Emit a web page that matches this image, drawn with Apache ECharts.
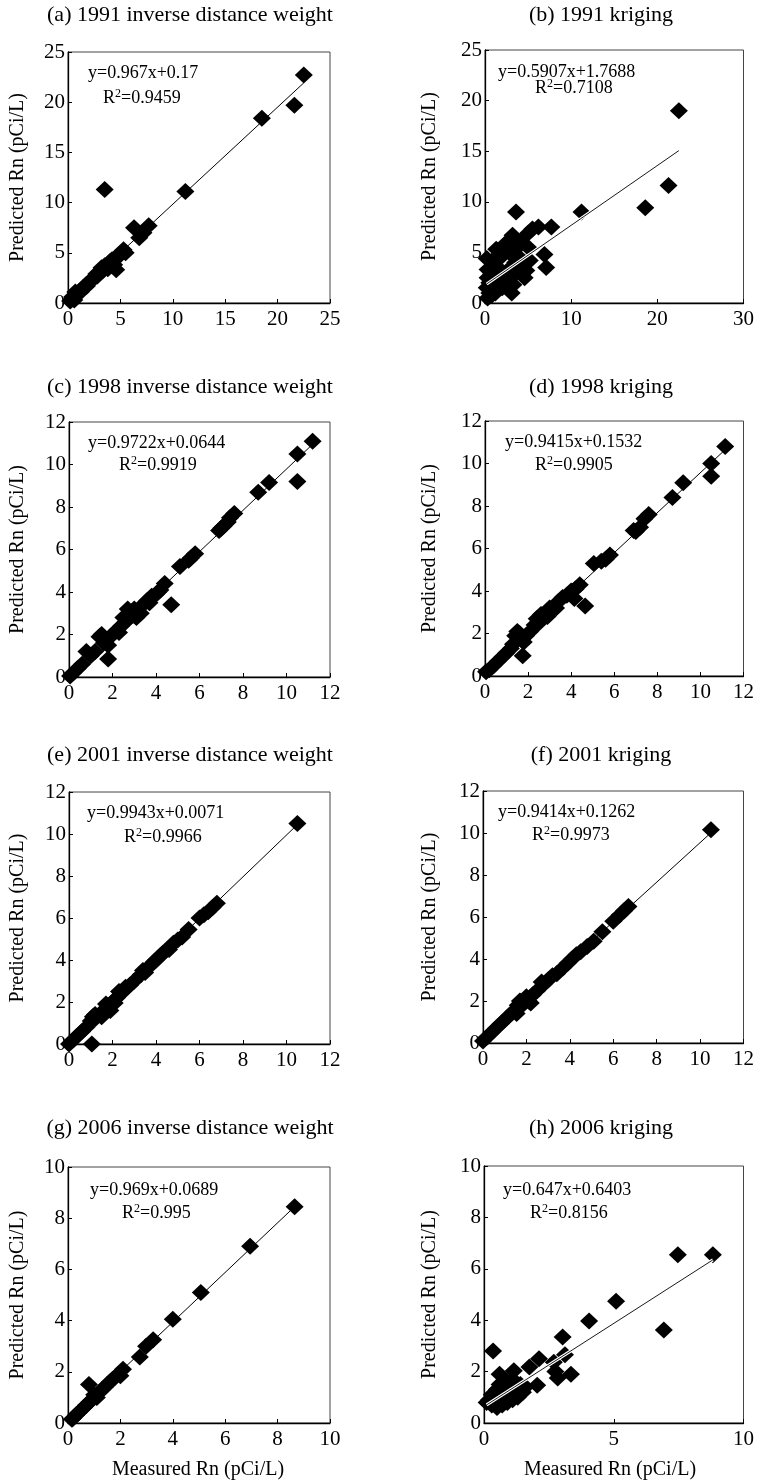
<!DOCTYPE html>
<html><head><meta charset="utf-8">
<script src="https://cdn.jsdelivr.net/npm/echarts@6/dist/echarts.min.js"></script>
<style>html,body{margin:0;padding:0;background:#fff}#c{width:757px;height:1481px}</style>
</head><body><div id="c"></div><script>
// ---- data (measured, predicted) ----
const idw1991 = [[22.5,22.7],[21.6,19.7],[18.5,18.4],[11.2,11.1],[3.5,11.3],[6.3,7.5],[7.7,7.7],[7.2,7.0],[6.8,6.5],[5.3,5.3],[5.5,5.0],[5.0,4.8],[4.8,4.7],[4.6,3.3],[4.4,3.8],[4.5,4.5],[4.2,4.3],[4.0,4.1],[3.8,3.4],[3.5,3.7],[3.3,3.2],[3.2,3.5],[3.0,3.0],[2.8,2.7],[2.7,2.9],[2.5,2.5],[2.2,2.3],[2.0,2.0],[1.8,1.7],[1.7,1.8],[1.4,1.5],[1.2,1.1],[1.0,1.0],[0.8,0.9],[0.7,1.1],[0.6,0.3],[0.5,0.5],[0.4,0.6],[0.3,0.3],[0.2,0.2]];
const krig1991 = [[22.5,19.0],[21.3,11.6],[18.6,9.4],[11.2,9.0],[3.6,9.0],[7.7,7.5],[6.2,7.5],[5.5,7.3],[5.0,6.9],[6.9,4.8],[7.1,3.5],[3.2,6.7],[3.0,6.2],[2.3,5.8],[1.3,5.3],[1.0,4.3],[0.2,4.4],[3.1,1.0],[4.6,2.5],[4.6,4.0],[5.0,5.5],[4.0,4.5],[3.5,4.0],[3.0,3.5],[2.5,3.0],[2.0,2.5],[1.5,2.0],[1.0,1.5],[0.5,1.0],[0.3,0.5],[0.5,2.0],[0.7,3.0],[1.0,2.5],[1.5,3.5],[2.0,1.5],[2.5,2.0],[3.0,2.5],[3.5,3.0],[4.0,3.5],[0.2,1.5],[0.3,2.5],[0.3,3.3],[1.8,4.5],[2.8,5.0],[3.8,5.5],[4.2,6.0],[0.8,0.8],[1.2,1.0],[2.2,2.0],[4.8,3.2],[5.2,4.2],[3.3,1.8],[2.7,1.5]];
const idw1998 = [[11.2,11.1],[10.5,10.5],[10.5,9.2],[9.2,9.15],[8.7,8.7],[7.6,7.7],[7.4,7.5],[7.3,7.3],[7.1,7.1],[7.0,7.0],[6.9,6.9],[5.8,5.8],[5.6,5.6],[5.5,5.5],[5.1,5.2],[4.7,3.4],[4.4,4.4],[4.2,4.1],[4.1,4.0],[4.0,3.9],[3.8,3.8],[3.7,3.5],[3.6,3.6],[3.4,3.4],[3.3,3.0],[3.2,3.0],[3.1,2.8],[3.0,2.9],[3.0,3.2],[2.9,3.0],[2.8,2.8],[2.7,3.2],[2.6,2.6],[2.5,2.8],[2.4,2.4],[2.3,2.1],[2.2,2.2],[2.0,2.0],[1.8,1.8],[1.8,1.5],[1.8,0.85],[1.6,1.6],[1.5,2.0],[1.4,1.9],[1.2,1.2],[1.0,1.0],[0.8,1.2],[0.6,0.6],[0.4,0.4],[0.2,0.2],[0.05,0.05]];
const krig1998 = [[11.15,10.8],[10.5,10.0],[10.5,9.4],[9.2,9.1],[8.7,8.4],[7.6,7.6],[7.4,7.4],[7.2,7.0],[7.0,6.8],[6.9,6.85],[5.8,5.7],[5.6,5.5],[5.4,5.4],[5.05,5.3],[4.65,3.3],[4.4,4.3],[4.2,4.1],[4.15,3.65],[4.0,4.0],[3.8,3.8],[3.6,3.7],[3.4,3.5],[3.3,3.2],[3.2,3.2],[3.0,3.2],[2.9,2.8],[2.8,2.9],[2.6,2.9],[2.5,2.5],[2.4,2.7],[2.3,2.4],[2.1,2.1],[1.9,1.9],[1.8,1.6],[1.75,0.95],[1.7,1.7],[1.6,2.0],[1.5,2.1],[1.4,1.9],[1.3,1.5],[1.2,1.3],[1.0,1.1],[0.8,0.9],[0.6,0.7],[0.4,0.5],[0.2,0.3],[0.05,0.2]];
const idw2001 = [[10.5,10.5],[6.8,6.7],[6.6,6.5],[6.4,6.3],[6.2,6.15],[6.0,6.0],[5.5,5.45],[5.2,5.1],[5.0,4.95],[4.8,4.8],[4.6,4.5],[4.4,4.4],[4.3,4.3],[4.2,4.2],[4.0,4.0],[3.9,3.9],[3.8,3.8],[3.5,3.4],[3.4,3.5],[3.3,3.3],[3.0,3.0],[2.8,2.8],[2.6,2.7],[2.4,2.4],[2.3,2.5],[2.2,2.2],[2.1,1.95],[2.0,2.0],[1.8,1.8],[1.9,1.6],[1.7,1.9],[1.6,1.6],[1.5,1.3],[1.4,1.4],[1.2,1.4],[1.2,1.2],[1.1,1.3],[1.0,1.1],[0.8,0.8],[0.6,0.6],[0.4,0.4],[0.2,0.2],[0.0,0.0],[1.05,0.0]];
const krig2001 = [[10.5,10.15],[6.7,6.5],[6.5,6.3],[6.3,6.1],[6.0,5.8],[5.5,5.3],[5.1,4.85],[4.8,4.6],[4.5,4.35],[4.3,4.2],[4.1,4.0],[3.9,3.8],[3.7,3.6],[3.4,3.3],[3.2,3.2],[3.0,3.0],[2.8,2.8],[2.7,2.9],[2.5,2.5],[2.3,2.3],[2.2,1.9],[2.1,2.0],[2.0,2.2],[1.8,1.8],[1.7,2.0],[1.6,1.8],[1.55,1.4],[1.4,1.5],[1.2,1.3],[1.0,1.1],[0.8,0.9],[0.6,0.7],[0.4,0.5],[0.2,0.3],[0.0,0.1]];
const idw2006 = [[8.65,8.45],[6.95,6.9],[5.07,5.1],[4.0,4.05],[3.25,3.25],[2.98,3.0],[2.74,2.58],[2.1,2.1],[2.0,1.85],[1.8,1.8],[1.7,1.7],[1.6,1.6],[1.5,1.5],[1.4,1.4],[1.3,1.3],[1.2,1.2],[1.1,1.0],[1.0,1.1],[0.9,0.9],[0.8,0.8],[0.8,1.5],[0.7,0.7],[0.6,0.6],[0.5,0.5],[0.4,0.4],[0.3,0.3],[0.2,0.2],[0.15,0.15]];
const krig2006 = [[8.82,6.55],[7.47,6.55],[6.93,3.62],[5.09,4.74],[4.05,3.97],[3.03,3.35],[3.12,2.66],[3.35,1.9],[2.69,2.36],[2.84,1.75],[2.75,2.0],[2.12,2.5],[1.75,2.18],[2.05,1.47],[0.35,2.8],[1.15,2.03],[0.6,1.9],[0.8,1.7],[1.0,1.6],[0.1,0.8],[0.3,0.7],[0.5,0.6],[0.7,0.7],[0.9,0.8],[1.1,0.9],[1.3,1.0],[1.5,1.2],[1.6,1.4],[0.4,1.0],[0.5,1.3],[0.6,1.5],[0.8,1.2],[1.0,1.1],[1.2,1.4],[1.4,1.5],[0.3,1.1],[0.2,0.9],[0.7,1.0],[0.9,1.4],[1.1,1.7],[0.5,0.8],[1.35,1.25]];

const titles = ['(a) 1991 inverse distance weight','(b) 1991 kriging','(c) 1998 inverse distance weight','(d) 1998 kriging','(e) 2001 inverse distance weight','(f) 2001 kriging','(g) 2006 inverse distance weight','(h) 2006 kriging'];
const slopes = [0.967,0.5907,0.9722,0.9415,0.9943,0.9414,0.969,0.647];
const intercepts = [0.17,1.7688,0.0644,0.1532,0.0071,0.1262,0.0689,0.6403];
const eqLabels = ['y=0.967x+0.17','y=0.5907x+1.7688','y=0.9722x+0.0644','y=0.9415x+0.1532','y=0.9943x+0.0071','y=0.9414x+0.1262','y=0.969x+0.0689','y=0.647x+0.6403'];
const r2Labels = ['0.9459','0.7108','0.9919','0.9905','0.9966','0.9973','0.995','0.8156'];
const xMaxs = [25,30,12,12,12,12,10,10];
const xSteps = [5,10,2,2,2,2,2,5];
const yMaxs = [25,25,12,12,12,12,10,10];
const ySteps = [5,5,2,2,2,2,2,2];
const yName = 'Predicted Rn (pCi/L)';
const xName = 'Measured Rn (pCi/L)';

const datasets = [idw1991,krig1991,idw1998,krig1998,idw2001,krig2001,idw2006,krig2006];

// ---- layout ----
const grids = [
  {left:68,top:52,width:262,height:251},{left:485,top:50,width:260,height:253},
  {left:69,top:422,width:261,height:255},{left:485,top:421,width:260,height:255},
  {left:69,top:792,width:261,height:252},{left:483,top:791,width:262,height:252},
  {left:68,top:1167,width:262,height:256},{left:484,top:1166,width:261,height:257}
];
const titlePos = [[190,15],[601,15],[190,387],[601,387],[190,755],[601,755],[190,1128],[601,1128]];
const eqOff = [[20,21,35,46],[13,22,50,38],[19,21,50,43],[20,21,50,44],[18,21,55,45],[15,21,49,44],[22,23,54,46],[19,24,46,47]];
const lineOnTop = [false,true,false,false,false,false,false,true];
const FONT = '"Liberation Serif","Times New Roman",serif';

const option = {animation:false, backgroundColor:'#fff', grid:[], xAxis:[], yAxis:[], series:[], graphic:[]};
grids.forEach((g,i)=>{
  option.grid.push(Object.assign({show:true,borderColor:'#444',borderWidth:1,containLabel:false},g));
  const ax = {
    type:'value', min:0, gridIndex:i,
    axisLine:{show:true,onZero:false,lineStyle:{color:'#000',width:1.3}},
    axisTick:{show:true,inside:true,length:4,lineStyle:{color:'#000'}},
    splitLine:{show:false},
    axisLabel:{color:'#000',fontFamily:FONT,fontSize:21}
  };
  option.xAxis.push(Object.assign({},ax,{max:xMaxs[i],interval:xSteps[i],axisLabel:Object.assign({},ax.axisLabel,{margin:6})}));
  option.yAxis.push(Object.assign({},ax,{max:yMaxs[i],interval:ySteps[i],axisLabel:Object.assign({},ax.axisLabel,{margin:3})}));
  const d = datasets[i];
  const xs = d.map(p=>p[0]);
  const x0 = Math.min(...xs), x1 = Math.max(...xs);
  const lineData = [[x0,slopes[i]*x0+intercepts[i]],[x1,slopes[i]*x1+intercepts[i]]];
  option.series.push({type:'scatter',xAxisIndex:i,yAxisIndex:i,data:d,symbol:'diamond',symbolSize:[18,17],itemStyle:{color:'#000',opacity:1},z:2,silent:true});
  if(lineOnTop[i]){
    option.series.push({type:'line',xAxisIndex:i,yAxisIndex:i,data:lineData,symbol:'none',lineStyle:{color:'#fff',width:3},z:3,silent:true});
    option.series.push({type:'line',xAxisIndex:i,yAxisIndex:i,data:lineData,symbol:'none',lineStyle:{color:'#000',width:0.9},z:4,silent:true});
  } else {
    option.series.push({type:'line',xAxisIndex:i,yAxisIndex:i,data:lineData,symbol:'none',lineStyle:{color:'#000',width:1},z:1,silent:true});
  }
  // title
  option.graphic.push({type:'text',x:titlePos[i][0],y:titlePos[i][1],style:{text:titles[i],font:'22px '+FONT,fill:'#000',textAlign:'center',textVerticalAlign:'middle'}});
  // equation
  const o = eqOff[i];
  option.graphic.push({type:'text',x:g.left+o[0],y:g.top+o[1],style:{text:eqLabels[i],font:'18px '+FONT,fill:'#000',textAlign:'left',textVerticalAlign:'middle'}});
  option.graphic.push({type:'text',x:g.left+o[2],y:g.top+o[3],style:{text:'R{s|2}='+r2Labels[i],font:'18px '+FONT,fill:'#000',textAlign:'left',textVerticalAlign:'middle',rich:{s:{fontSize:12,fontFamily:FONT,verticalAlign:'top',padding:[0,0,8,0]}}}});
  // y name
  option.graphic.push({type:'text',x:(i%2===0?18:430),y:g.top+g.height/2,rotation:Math.PI/2,style:{text:yName,font:'20px '+FONT,fill:'#000',textAlign:'center',textVerticalAlign:'middle'}});
  if(i>=6){
    option.graphic.push({type:'text',x:(i===6?198:610),y:1470,style:{text:xName,font:'20px '+FONT,fill:'#000',textAlign:'center',textVerticalAlign:'middle'}});
  }
});
const chart = echarts.init(document.getElementById('c'),null,{renderer:'canvas'});
chart.setOption(option);
</script></body></html>
